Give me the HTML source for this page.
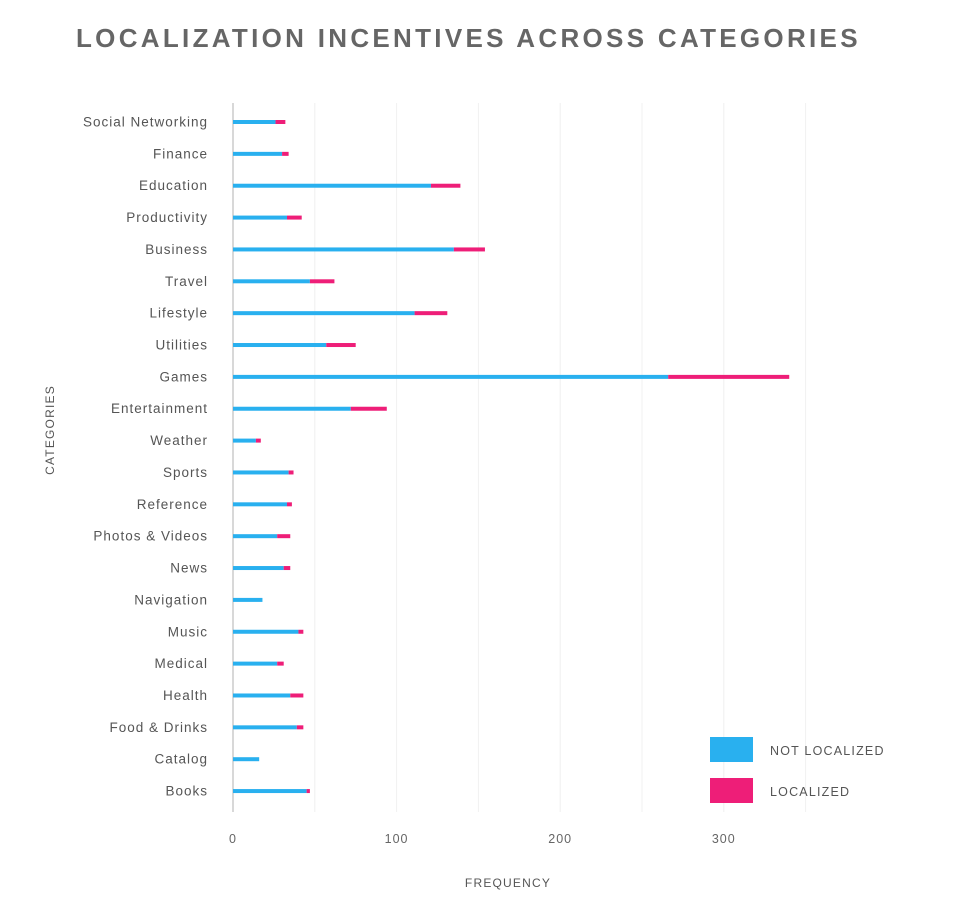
<!DOCTYPE html>
<html><head><meta charset="utf-8"><style>
body{margin:0;background:#fff;width:960px;height:905px;overflow:hidden;font-family:"Liberation Sans",sans-serif}
</style></head><body>
<svg id="chart" width="960" height="905" xmlns="http://www.w3.org/2000/svg">
<text x="76" y="47" font-size="26" font-weight="bold" fill="#666" letter-spacing="3.3" font-family="Liberation Sans, sans-serif">LOCALIZATION INCENTIVES ACROSS CATEGORIES</text>
<g id="grid"></g><g id="bars"></g><g id="labels"></g>
<text transform="translate(54,430) rotate(-90)" text-anchor="middle" font-size="12" fill="#555" letter-spacing="1.2">CATEGORIES</text>
<text x="508" y="887" text-anchor="middle" font-size="12" fill="#555" letter-spacing="1.2">FREQUENCY</text>
<rect x="710" y="737" width="43" height="25" fill="#29b0ef"/>
<text x="770" y="755" font-size="12.5" fill="#555" letter-spacing="1.2">NOT LOCALIZED</text>
<rect x="710" y="778" width="43" height="25" fill="#ee1e78"/>
<text x="770" y="796" font-size="12.5" fill="#555" letter-spacing="1.2">LOCALIZED</text>
</svg>
<script>
const categories=["Social Networking","Finance","Education","Productivity","Business","Travel","Lifestyle","Utilities","Games","Entertainment","Weather","Sports","Reference","Photos & Videos","News","Navigation","Music","Medical","Health","Food & Drinks","Catalog","Books"];
const notLocalized=[26,30,121,33,135,47,111,57,266,72,14,34,33,27,31,18,40,27,35,39,16,45];
const localized=[6,4,18,9,19,15,20,18,74,22,3,3,3,8,4,0,3,4,8,4,0,2];
const xTicks=[0,100,200,300];
const gridValues=[50,100,150,200,250,300,350];
const NS="http://www.w3.org/2000/svg";
const x0=233,pxPer=1.636,yTop=122,yStep=31.86;
const xs=v=>x0+v*pxPer;
const ys=i=>yTop+i*yStep;
function mk(tag,attrs,parent){const e=document.createElementNS(NS,tag);for(const k in attrs)e.setAttribute(k,attrs[k]);parent.appendChild(e);return e;}
const grid=document.getElementById('grid'),bars=document.getElementById('bars'),labels=document.getElementById('labels');
gridValues.forEach(v=>{const l=mk('line',{x1:xs(v),x2:xs(v),y1:103,y2:812,stroke:'#f0f0f0','stroke-width':1},grid);

});
const ax=mk('line',{x1:x0,x2:x0,y1:103,y2:812,stroke:'#ccc','stroke-width':1.5},grid);


xTicks.forEach(v=>{const t=mk('text',{x:xs(v),y:843,'text-anchor':'middle','font-size':12.5,fill:'#666','letter-spacing':1},labels);t.textContent=v;

});
categories.forEach((c,i)=>{const y=ys(i);
const t=mk('text',{x:208,y:y+4.5,'text-anchor':'end','font-size':13.5,fill:'#555','letter-spacing':1},labels);t.textContent=c;


const b=mk('rect',{x:xs(0),y:y-2,width:xs(notLocalized[i])-xs(0),height:4,fill:'#29b0ef'},bars);


if(localized[i]>0){const r=mk('rect',{x:xs(notLocalized[i]),y:y-2,width:xs(notLocalized[i]+localized[i])-xs(notLocalized[i]),height:4,fill:'#ee1e78'},bars);

}
});
</script>
</body></html>
